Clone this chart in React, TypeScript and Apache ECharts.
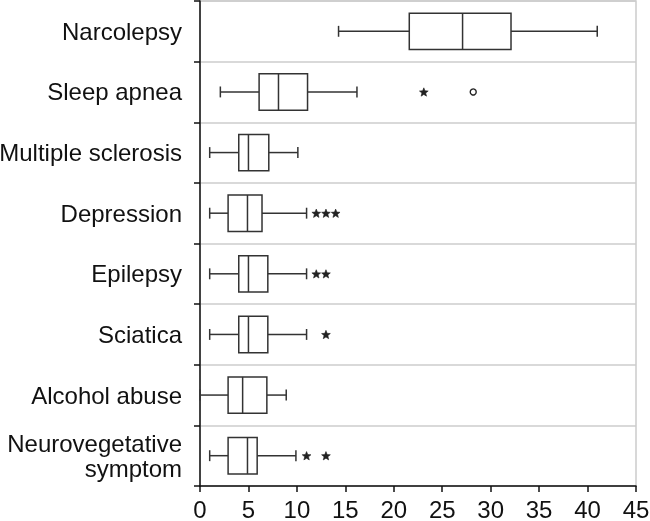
import React, { useEffect, useRef } from "react";
import * as echarts from "echarts";

const categories = [
  "Narcolepsy",
  "Sleep apnea",
  "Multiple sclerosis",
  "Depression",
  "Epilepsy",
  "Sciatica",
  "Alcohol abuse",
  "Neurovegetative\nsymptom",
];
const whiskerLow = [14.3, 2.1, 1.0, 1.0, 1.0, 1.0, 0, 1.0];
const q1 = [21.6, 6.1, 4.0, 2.9, 4.0, 4.0, 2.9, 2.9];
const median = [27.1, 8.1, 5.0, 4.9, 5.0, 5.0, 4.4, 4.9];
const q3 = [32.1, 11.1, 7.1, 6.4, 7.0, 7.0, 6.9, 5.9];
const whiskerHigh = [41.0, 16.2, 10.1, 11.0, 11.0, 11.0, 8.9, 9.9];
// extreme outliers (asterisks): [category index, value]
const extremeOutliers = [
  [1, 23.1],
  [3, 12.0],
  [3, 13.0],
  [3, 14.0],
  [4, 12.0],
  [4, 13.0],
  [5, 13.0],
  [7, 11.0],
  [7, 13.0],
];
// mild outliers (circles)
const mildOutliers = [[1, 28.2]];
const xTicks = { min: 0, max: 45, interval: 5 };

const LINE = "#333333";
const FONT = "Liberation Sans, Arial, Helvetica, sans-serif";

export default function App() {
  const ref = useRef<HTMLDivElement>(null);
  useEffect(() => {
    if (!ref.current) return;
    const chart = echarts.init(ref.current, null, { renderer: "svg" });
    const boxData = categories.map((_, i) => [
      i,
      whiskerLow[i],
      q1[i],
      median[i],
      q3[i],
      whiskerHigh[i],
    ]);
    chart.setOption({
      animation: false,
      grid: {
        left: 200,
        right: 14,
        top: 1,
        bottom: 35,
        show: true,
        borderColor: "#cccccc",
        borderWidth: 1.5,
        containLabel: false,
        outerBoundsMode: "none",
      },
      xAxis: {
        type: "value",
        min: xTicks.min,
        max: xTicks.max,
        interval: xTicks.interval,
        axisLine: { show: true, lineStyle: { color: "#111", width: 1.5 } },
        axisTick: { show: true, length: 6, lineStyle: { color: "#111", width: 1.5 } },
        splitLine: { show: false },
        axisLabel: { color: "#111", fontSize: 24, fontFamily: FONT, margin: 11 },
      },
      yAxis: {
        type: "category",
        data: categories,
        inverse: true,
        axisLine: { show: true, lineStyle: { color: "#111", width: 1.5 } },
        axisTick: { show: true, length: 6, lineStyle: { color: "#111", width: 1.5 } },
        splitLine: { show: true, lineStyle: { color: "#cccccc", width: 1.5 } },
        axisLabel: {
          color: "#111",
          fontSize: 24,
          fontFamily: FONT,
          margin: 18,
          lineHeight: 25,
          align: "right",
        },
      },
      series: [
        {
          type: "custom",
          data: boxData,
          encode: { x: [1, 2, 3, 4, 5], y: 0 },
          renderItem: (params: any, api: any) => {
            const cat = api.value(0);
            const pLow = api.coord([api.value(1), cat]);
            const pQ1 = api.coord([api.value(2), cat]);
            const pMed = api.coord([api.value(3), cat]);
            const pQ3 = api.coord([api.value(4), cat]);
            const pHigh = api.coord([api.value(5), cat]);
            const band = api.size([0, 1])[1];
            const half = band * 0.3;
            const cap = band * 0.09;
            const y = pMed[1];
            const style = { stroke: LINE, lineWidth: 1.5, fill: null };
            return {
              type: "group",
              children: [
                { type: "line", shape: { x1: pLow[0], y1: y, x2: pQ1[0], y2: y }, style },
                { type: "line", shape: { x1: pQ3[0], y1: y, x2: pHigh[0], y2: y }, style },
                { type: "line", shape: { x1: pLow[0], y1: y - cap, x2: pLow[0], y2: y + cap }, style },
                { type: "line", shape: { x1: pHigh[0], y1: y - cap, x2: pHigh[0], y2: y + cap }, style },
                {
                  type: "rect",
                  shape: { x: pQ1[0], y: y - half, width: pQ3[0] - pQ1[0], height: half * 2 },
                  style: { stroke: LINE, lineWidth: 1.5, fill: "#ffffff" },
                },
                { type: "line", shape: { x1: pMed[0], y1: y - half, x2: pMed[0], y2: y + half }, style },
              ],
            };
          },
          z: 5,
        },
        {
          type: "custom",
          data: extremeOutliers.map((d) => [d[1], d[0]]),
          encode: { x: 0, y: 1 },
          renderItem: (params: any, api: any) => {
            const p = api.coord([api.value(0), api.value(1)]);
            const ro = 4.6;
            const ri = 2.0;
            const pts: number[][] = [];
            for (let k = 0; k < 10; k++) {
              const a = -Math.PI / 2 + (k * Math.PI) / 5;
              const r = k % 2 === 0 ? ro : ri;
              pts.push([p[0] + r * Math.cos(a), p[1] + 0.5 + r * Math.sin(a)]);
            }
            return {
              type: "polygon",
              shape: { points: pts },
              style: { fill: "#222", stroke: "#222", lineWidth: 0.6 },
            };
          },
          z: 6,
        },
        {
          type: "custom",
          data: mildOutliers.map((d) => [d[1], d[0]]),
          encode: { x: 0, y: 1 },
          renderItem: (params: any, api: any) => {
            const p = api.coord([api.value(0), api.value(1)]);
            return {
              type: "circle",
              shape: { cx: p[0], cy: p[1], r: 3 },
              style: { stroke: "#222", lineWidth: 1.4, fill: "#fff" },
            };
          },
          z: 6,
        },
      ],
    });
    return () => chart.dispose();
  }, []);
  return (
    <div
      ref={ref}
      style={{ position: "fixed", left: 0, top: 0, width: 650, height: 521 }}
    />
  );
}
